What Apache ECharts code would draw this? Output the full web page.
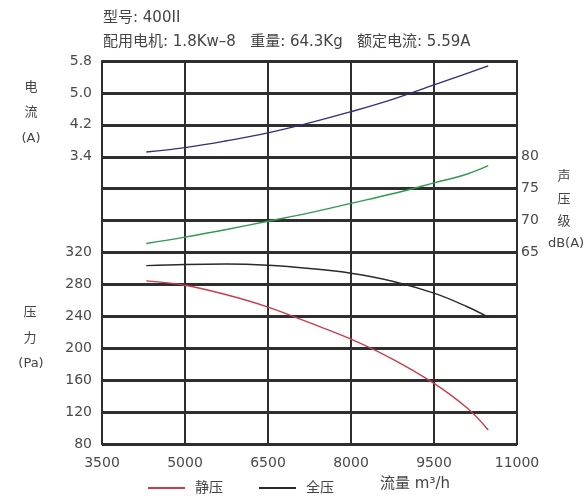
<!DOCTYPE html>
<html>
<head>
<meta charset="utf-8">
<script src="https://cdn.jsdelivr.net/npm/echarts@6/dist/echarts.min.js"></script>
<style>
html,body{margin:0;padding:0;background:#fff;}
#chart{width:588px;height:499px;}
</style>
</head>
<body>
<div id="chart"></div>
<script>
// Data
var flow = [4300, 5000, 5750, 6500, 7250, 8000, 8750, 9500, 10100, 10480];   // m3/h
var currentA = [3.52, 3.63, 3.80, 4.00, 4.25, 4.53, 4.84, 5.20, 5.49, 5.68];  // A
var soundDb = [66.4, 67.4, 68.6, 69.9, 71.2, 72.7, 74.2, 75.9, 77.3, 78.6];   // dB(A)
var totalPa = [303.5, 305, 305.5, 304, 300, 294, 284, 269, 252, 239];         // 全压 Pa
var staticPa = [284.5, 279, 267, 251.6, 232, 211.5, 186.5, 156, 125, 97.5];   // 静压 Pa

var xTicks = [3500, 5000, 6500, 8000, 9500, 11000];
var currentTicks = [3.4, 4.2, 5.0, 5.8];
var soundTicks = [65, 70, 75, 80];
var pressureTicks = [80, 120, 160, 200, 240, 280, 320];

function pairs(xs, ys){ return xs.map(function(x,i){ return [x, ys[i]]; }); }

var font = 'DejaVu Sans, Noto Sans CJK SC, sans-serif';
var labelColor = '#4a4a4a';
var gridColor = '#2e2e2e';

function txt(x, y, s, size){
  return {type:'text', x: x, y: y, style:{text: s, fontSize: size || 13, fill:'#444', fontFamily: font, align:'center', verticalAlign:'middle'}};
}

var chart = echarts.init(document.getElementById('chart'));
chart.setOption({
  animation: false,
  backgroundColor: '#fff',
  grid: {left: 102, right: 71, top: 61, bottom: 55},
  legend: {
    left: 143, top: 476,
    itemWidth: 37, itemHeight: 2, itemGap: 36,
    icon: 'rect',
    textStyle: {fontSize: 14, color: '#444', fontFamily: font, padding: [0,0,0,5]},
    data: ['静压', '全压']
  },
  graphic: [
    {type:'text', left: 103, top: 11, style:{text:'型号: 400II', fontSize:15, fill:'#444', fontFamily:font}},
    {type:'text', left: 103, top: 35, style:{text:'配用电机: 1.8Kw–8   重量: 64.3Kg   额定电流: 5.59A', fontSize:15, fill:'#444', fontFamily:font}},
    txt(31, 88, '电'), txt(31, 113, '流'), txt(31, 139, '(A)'),
    txt(30, 313, '压'), txt(30, 339, '力'), txt(31, 364, '(Pa)'),
    txt(564, 177, '声'), txt(564, 200, '压'), txt(564, 222, '级'), txt(566, 244, 'dB(A)'),
    {type:'text', left: 380, top: 477, style:{text:'流量 m³/h', fontSize:15, fill:'#444', fontFamily:font}}
  ],
  xAxis: {
    type: 'value', min: xTicks[0], max: xTicks[xTicks.length-1], interval: 1500,
    axisLine: {show: true, onZero: false, lineStyle: {color: gridColor, width: 2}},
    axisTick: {show: false},
    splitLine: {show: true, lineStyle: {color: gridColor, width: 2}},
    axisLabel: {fontSize: 14, color: labelColor, fontFamily: font, margin: 12,
      formatter: function(v){ return String(Math.round(v)); }}
  },
  yAxis: [
    {
      type: 'value', position: 'left', min: 80, max: 560, interval: 40,
      axisLine: {show: true, lineStyle: {color: gridColor, width: 2}},
      axisTick: {show: false},
      splitLine: {show: true, lineStyle: {color: gridColor, width: 3}},
      axisLabel: {fontSize: 14, color: labelColor, fontFamily: font, margin: 10,
        formatter: function(v){ return pressureTicks.indexOf(Math.round(v)) >= 0 ? String(Math.round(v)) : ''; }}
    },
    {
      type: 'value', position: 'left', min: -3.8, max: 5.8, interval: 0.8,
      axisLine: {show: false}, axisTick: {show: false}, splitLine: {show: false},
      axisLabel: {fontSize: 14, color: labelColor, fontFamily: font, margin: 10,
        formatter: function(v){
          var s = (Math.round(v*10)/10).toFixed(1);
          return currentTicks.map(function(t){return t.toFixed(1);}).indexOf(s) >= 0 ? s : '';
        }}
    },
    {
      type: 'value', position: 'right', min: 35, max: 95, interval: 5,
      axisLine: {show: true, lineStyle: {color: gridColor, width: 2}},
      axisTick: {show: false}, splitLine: {show: false},
      axisLabel: {fontSize: 14, color: labelColor, fontFamily: font, margin: 4,
        formatter: function(v){ return soundTicks.indexOf(Math.round(v)) >= 0 ? String(Math.round(v)) : ''; }}
    }
  ],
  series: [
    {name: '静压', type: 'line', yAxisIndex: 0, smooth: 0.4, showSymbol: false,
     data: pairs(flow, staticPa), color: '#cc3b4b', lineStyle: {width: 1.4, color: '#cc3b4b'}},
    {name: '全压', type: 'line', yAxisIndex: 0, smooth: 0.4, showSymbol: false,
     data: pairs(flow, totalPa), color: '#2a2a2a', lineStyle: {width: 1.4, color: '#2a2a2a'}},
    {name: '电流', type: 'line', yAxisIndex: 1, smooth: 0.4, showSymbol: false,
     data: pairs(flow, currentA), lineStyle: {width: 1.4, color: '#2f2f80'}},
    {name: '声压级', type: 'line', yAxisIndex: 2, smooth: 0.4, showSymbol: false,
     data: pairs(flow, soundDb), lineStyle: {width: 1.4, color: '#2f9a50'}}
  ]
});
</script>
</body>
</html>
